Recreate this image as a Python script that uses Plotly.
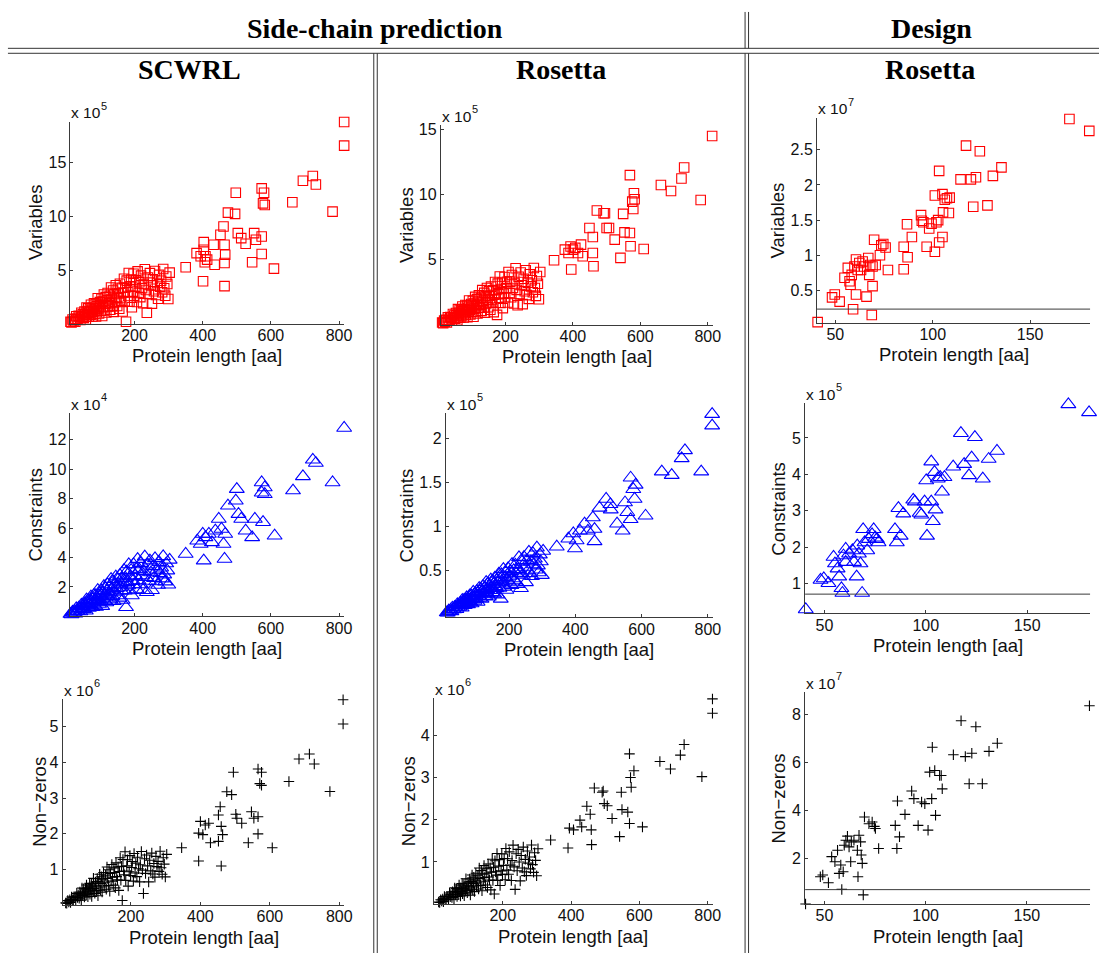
import plotly.graph_objects as go

W, H = 1107, 953

# ---------------- DATA ----------------
# Side-chain prediction: lengths of the densely packed small proteins (read as a cloud, 130 proteins)
dense_len = [12, 15, 18, 21, 24, 26, 29, 31, 34, 36, 39, 41, 44, 46, 48, 51, 53, 55, 57, 59,
             61, 62, 64, 66, 67, 69, 71, 72, 74, 76, 77, 79, 81, 82, 84, 86, 87, 89, 91, 92,
             94, 96, 98, 99, 101, 103, 105, 106, 108, 110, 112, 114, 115, 117, 119, 121, 123, 125, 127, 129,
             131, 133, 135, 137, 139, 141, 143, 145, 147, 149, 151, 153, 155, 157, 159, 161, 163, 165, 167, 169,
             171, 173, 175, 177, 179, 181, 183, 185, 188, 190, 192, 195, 197, 199, 202, 204, 207, 209, 212, 214,
             217, 219, 222, 225, 227, 230, 233, 236, 239, 242, 245, 248, 251, 254, 257, 260, 263, 266, 269, 272,
             275, 278, 281, 284, 287, 290, 293, 296, 299, 303]

# SCWRL variables (x 1e5)
scwrl_var_dense = [0.20, 0.15, 0.41, 0.28, 0.47, 0.21, 0.72, 0.48, 0.42, 0.75,
                   0.68, 0.38, 1.05, 0.66, 0.89, 0.57, 1.15, 0.91, 0.40, 1.53,
                   0.81, 1.15, 1.46, 0.67, 1.04, 1.43, 0.87, 1.79, 1.30, 0.70,
                   1.51, 1.14, 1.93, 0.92, 1.39, 1.87, 0.70, 1.66, 1.21, 2.39,
                   1.45, 0.98, 2.03, 1.74, 1.24, 2.35, 0.74, 2.08, 1.56, 2.74,
                   1.26, 1.88, 2.50, 1.07, 2.21, 2.89, 1.64, 1.93, 2.63, 1.32,
                   3.40, 2.33, 1.66, 3.12, 1.13, 2.77, 2.06, 3.61, 2.43, 1.68,
                   3.28, 2.85, 1.42, 3.74, 2.46, 2.15, 3.37, 1.16, 2.93, 4.21,
                   2.10, 3.40, 0.20, 4.04, 2.95, 2.61, 4.75, 2.08, 3.50, 4.13,
                   1.56, 3.01, 4.68, 2.63, 3.46, 4.08, 2.05, 4.90, 2.88, 3.89,
                   2.50, 4.50, 3.32, 1.94, 3.72, 5.10, 3.16, 1.05, 4.33, 2.80,
                   4.73, 3.59, 1.89, 4.17, 3.04, 4.93, 2.70, 3.82, 2.35, 4.57,
                   3.48, 4.03, 2.95, 5.12, 3.33, 2.63, 4.42, 3.72, 2.32, 4.78]
scwrl_var_sx = [350, 382, 394, 401, 403, 403, 408, 413, 406, 432, 435, 452, 461, 464, 466, 464, 464, 474, 497, 495,
                503, 513, 526, 545, 551, 556, 573, 573, 573, 580, 577, 582, 609, 663, 694, 723, 732, 781, 815, 815]
scwrl_var_sy = [5.28, 6.60, 6.30, 3.98, 7.62, 6.91, 6.30, 5.99, 5.74, 7.38, 5.52, 8.30, 9.07, 7.38, 6.45, 5.68, 3.52, 10.37, 12.22, 10.25,
                8.46, 7.99, 7.47, 5.74, 8.46, 7.84, 12.62, 8.15, 6.51, 12.22, 11.23, 11.08, 5.15, 11.33, 13.33, 13.77, 12.99, 10.46, 18.8, 16.6]

# Rosetta side-chain variables (x 1e5)
ros_var_dense = [0.16, 0.12, 0.32, 0.22, 0.37, 0.17, 0.56, 0.38, 0.33, 0.58,
                 0.54, 0.30, 0.82, 0.52, 0.70, 0.46, 0.90, 0.72, 0.33, 1.19,
                 0.65, 0.91, 1.14, 0.54, 0.82, 1.12, 0.70, 1.40, 1.02, 0.56,
                 1.19, 0.90, 1.51, 0.74, 1.09, 1.46, 0.57, 1.30, 0.96, 1.86,
                 1.15, 0.79, 1.59, 1.37, 0.99, 1.83, 0.61, 1.63, 1.23, 2.13,
                 1.01, 1.48, 1.96, 0.87, 1.74, 2.25, 1.30, 1.53, 2.06, 1.06,
                 2.65, 1.84, 1.32, 2.44, 0.92, 2.17, 1.63, 2.81, 1.91, 1.34,
                 2.57, 2.23, 1.15, 2.92, 1.94, 1.71, 2.64, 0.96, 2.30, 3.28,
                 1.68, 2.66, 0.75, 3.15, 2.33, 2.06, 3.70, 1.67, 2.74, 3.23,
                 1.27, 2.38, 3.66, 2.11, 2.79, 3.30, 1.70, 4.05, 2.42, 3.30,
                 2.11, 3.82, 2.81, 1.63, 3.16, 4.33, 2.67, 1.49, 3.68, 2.36,
                 4.01, 3.03, 1.58, 3.53, 2.57, 4.18, 2.27, 3.23, 1.98, 3.87,
                 2.94, 3.41, 2.49, 4.35, 2.82, 2.21, 3.74, 3.14, 1.95, 4.05]
ros_var_sx = [344, 395, 376, 387, 393, 400, 407, 415, 424, 429, 449, 459, 459, 461, 471, 491, 495, 500, 507, 524,
              541, 549, 553, 569, 569, 571, 576, 581, 579, 583, 610, 661, 691, 722, 730, 779, 813]
ros_var_sy = [4.95, 4.24, 5.76, 5.5, 6.0, 5.76, 5.9, 5.5, 6.15, 5.25, 7.42, 6.73, 5.5, 4.49, 8.77, 8.56, 8.56, 7.42, 7.42, 6.53,
              5.13, 8.51, 7.09, 11.49, 7.04, 6.02, 9.45, 10.09, 8.89, 9.63, 5.81, 10.73, 10.27, 11.23, 12.07, 9.58, 14.49]

# SCWRL constraints (x 1e4)
scwrl_con_dense = [0.16, 0.13, 0.31, 0.23, 0.36, 0.19, 0.54, 0.38, 0.35, 0.57,
                   0.53, 0.33, 0.79, 0.53, 0.69, 0.48, 0.87, 0.72, 0.38, 1.14,
                   0.66, 0.89, 1.10, 0.58, 0.82, 1.09, 0.72, 1.34, 1.01, 0.62,
                   1.16, 0.92, 1.45, 0.78, 1.09, 1.42, 0.64, 1.28, 0.99, 1.78,
                   1.16, 0.84, 1.55, 1.36, 1.03, 1.77, 0.70, 1.60, 1.25, 2.05,
                   1.06, 1.48, 1.90, 0.95, 1.71, 2.17, 1.34, 1.54, 2.01, 1.14,
                   2.53, 1.82, 1.38, 2.36, 1.03, 2.13, 1.66, 2.70, 1.91, 1.42,
                   2.49, 2.20, 1.26, 2.81, 1.96, 1.75, 2.58, 1.11, 2.29, 3.14,
                   1.74, 2.61, 0.62, 3.04, 2.33, 2.10, 3.53, 1.76, 2.71, 3.14,
                   1.42, 2.40, 3.53, 2.17, 2.77, 3.22, 1.82, 3.89, 2.44, 3.18,
                   2.17, 3.62, 2.77, 1.78, 3.06, 4.06, 2.66, 1.64, 3.51, 2.41,
                   3.79, 2.98, 1.78, 3.40, 2.60, 3.94, 2.37, 3.16, 2.13, 3.69,
                   2.93, 3.31, 2.57, 4.08, 2.84, 2.36, 3.59, 3.11, 2.15, 3.84]
scwrl_con_sx = [350, 384, 394, 403, 400, 408, 418, 427, 437, 447, 455, 461, 466, 464, 474, 497, 500, 505, 513, 526,
                545, 553, 573, 573, 577, 582, 582, 611, 665, 694, 723, 732, 781, 815]
scwrl_con_sy = [4.24, 5.14, 4.92, 3.79, 5.6, 5.37, 5.6, 5.03, 5.82, 6.62, 5.94, 4.92, 5.6, 3.9, 7.52, 7.86, 8.65, 6.95, 6.62, 5.82,
                5.37, 6.62, 9.1, 8.4, 6.4, 8.76, 8.3, 5.48, 8.55, 9.51, 10.64, 10.42, 9.10, 12.8]

# Rosetta side-chain constraints (x 1e5)
ros_con_dense = [0.025, 0.024, 0.046, 0.039, 0.056, 0.038, 0.079, 0.063, 0.061, 0.087,
                 0.085, 0.063, 0.117, 0.089, 0.108, 0.087, 0.133, 0.116, 0.079, 0.166,
                 0.113, 0.140, 0.165, 0.107, 0.135, 0.167, 0.126, 0.197, 0.161, 0.117,
                 0.180, 0.153, 0.215, 0.139, 0.176, 0.215, 0.127, 0.201, 0.169, 0.259,
                 0.190, 0.156, 0.237, 0.216, 0.180, 0.266, 0.145, 0.248, 0.210, 0.301,
                 0.190, 0.239, 0.288, 0.180, 0.269, 0.322, 0.229, 0.253, 0.307, 0.209,
                 0.369, 0.290, 0.240, 0.353, 0.203, 0.330, 0.277, 0.397, 0.309, 0.253,
                 0.378, 0.346, 0.239, 0.418, 0.321, 0.299, 0.394, 0.228, 0.364, 0.463,
                 0.304, 0.405, 0.18, 0.457, 0.376, 0.351, 0.516, 0.315, 0.425, 0.475,
                 0.280, 0.394, 0.524, 0.370, 0.440, 0.494, 0.335, 0.573, 0.411, 0.501,
                 0.386, 0.565, 0.466, 0.347, 0.513, 0.649, 0.471, 0.30, 0.598, 0.450,
                 0.652, 0.541, 0.366, 0.615, 0.499, 0.712, 0.468, 0.601, 0.436, 0.695,
                 0.569, 0.633, 0.510, 0.759, 0.556, 0.478, 0.680, 0.602, 0.448, 0.722]
ros_con_sx = [344, 379, 394, 399, 404, 414, 428, 438, 453, 458, 458, 473, 493, 506, 507, 526, 543, 550, 557, 567,
              567, 575, 579, 582, 612, 661, 691, 721, 731, 780, 813, 813]
ros_con_sy = [0.77, 0.86, 0.92, 0.75, 0.84, 0.95, 1.03, 0.95, 1.10, 0.97, 0.83, 1.21, 1.31, 1.25, 1.19, 1.03, 0.95, 1.27, 1.16, 1.55,
              1.08, 1.42, 1.31, 1.47, 1.12, 1.62, 1.58, 1.77, 1.86, 1.62, 2.27, 2.14]

# SCWRL non-zeros (x 1e6)
scwrl_nnz_dense = [0.064, 0.052, 0.130, 0.093, 0.151, 0.074, 0.228, 0.156, 0.139, 0.238,
                   0.221, 0.129, 0.332, 0.217, 0.287, 0.193, 0.367, 0.294, 0.143, 0.483,
                   0.269, 0.371, 0.463, 0.228, 0.337, 0.456, 0.290, 0.567, 0.419, 0.239,
                   0.485, 0.373, 0.612, 0.310, 0.449, 0.596, 0.246, 0.532, 0.401, 0.753,
                   0.473, 0.332, 0.648, 0.561, 0.413, 0.746, 0.264, 0.667, 0.510, 0.866,
                   0.423, 0.610, 0.796, 0.368, 0.712, 0.914, 0.542, 0.629, 0.839, 0.446,
                   1.072, 0.753, 0.552, 0.992, 0.393, 0.888, 0.675, 1.141, 0.786, 0.562,
                   1.046, 0.915, 0.487, 1.186, 0.801, 0.709, 1.077, 0.415, 0.946, 1.330,
                   0.699, 1.089, 0.13, 1.281, 0.958, 0.854, 1.498, 0.695, 1.102, 1.275,
                   0.536, 0.938, 1.391, 0.831, 1.058, 1.227, 0.676, 1.450, 0.904, 1.179,
                   0.802, 1.344, 1.024, 0.655, 1.136, 1.507, 0.984, 0.33, 1.302, 0.892,
                   1.407, 1.104, 0.653, 1.260, 0.963, 1.461, 0.873, 1.170, 0.786, 1.368,
                   1.083, 1.228, 0.948, 1.513, 1.049, 0.869, 1.331, 1.151, 0.793, 1.426]
scwrl_nnz_sx = [346, 395, 395, 400, 407, 414, 424, 429, 452, 452, 457, 460, 464, 460, 476, 490, 495, 502, 505, 519,
                538, 547, 554, 566, 566, 566, 571, 576, 576, 607, 655, 684, 714, 728, 773, 811, 811]
scwrl_nnz_sy = [1.61, 1.24, 2.02, 2.35, 1.98, 2.25, 2.30, 1.75, 1.79, 2.53, 2.76, 2.21, 1.98, 1.10, 3.18, 3.10, 3.73, 2.55, 2.44, 2.30,
                1.75, 2.62, 2.44, 2.00, 2.48, 3.82, 3.41, 3.73, 3.36, 1.61, 3.47, 4.10, 4.24, 3.96, 3.19, 5.76, 5.08]

# Rosetta side-chain non-zeros (x 1e6)
ros_nnz_dense = [0.052, 0.042, 0.104, 0.075, 0.121, 0.060, 0.183, 0.126, 0.112, 0.191,
                 0.177, 0.105, 0.266, 0.175, 0.230, 0.156, 0.294, 0.237, 0.117, 0.386,
                 0.217, 0.298, 0.371, 0.185, 0.271, 0.366, 0.234, 0.454, 0.337, 0.194,
                 0.389, 0.300, 0.490, 0.250, 0.361, 0.477, 0.200, 0.427, 0.323, 0.603,
                 0.381, 0.269, 0.519, 0.450, 0.333, 0.597, 0.215, 0.535, 0.410, 0.693,
                 0.342, 0.490, 0.638, 0.298, 0.571, 0.732, 0.437, 0.506, 0.673, 0.361,
                 0.858, 0.605, 0.446, 0.795, 0.320, 0.712, 0.543, 0.914, 0.632, 0.454,
                 0.838, 0.734, 0.395, 0.950, 0.644, 0.572, 0.864, 0.338, 0.760, 1.065,
                 0.564, 0.874, 0.24, 1.027, 0.770, 0.688, 1.199, 0.564, 0.902, 1.055,
                 0.442, 0.790, 1.192, 0.706, 0.919, 1.081, 0.580, 1.317, 0.806, 1.077,
                 0.709, 1.239, 0.925, 0.562, 1.034, 1.398, 0.883, 0.35, 1.195, 0.791,
                 1.299, 0.998, 0.552, 1.152, 0.858, 1.352, 0.766, 1.062, 0.677, 1.258,
                 0.973, 1.118, 0.836, 1.403, 0.937, 0.754, 1.219, 1.037, 0.675, 1.314]
ros_nnz_sx = [340, 391, 395, 407, 426, 431, 446, 456, 459, 460, 468, 491, 494, 497, 506, 520, 542, 547, 549, 566,
              571, 571, 574, 576, 584, 609, 660, 691, 720, 731, 783, 814, 814]
ros_nnz_sy = [1.52, 1.33, 1.80, 1.76, 1.99, 1.83, 2.32, 2.13, 1.76, 1.41, 2.75, 2.65, 2.68, 2.38, 2.33, 2.03, 1.60, 2.65, 2.24, 2.18,
              1.91, 3.56, 3.00, 2.77, 3.16, 1.83, 3.38, 3.20, 3.53, 3.78, 3.02, 4.86, 4.52]

# Design (Rosetta): variables (x 1e7)
des_var_x = [40.9, 48.3, 49.7, 52.2, 54.7, 56.4, 57.3, 57.8, 58.4, 59.1, 59.8, 60.6, 60.6, 61.5, 62.3, 63.2, 64.0, 64.8, 66.0, 66.9,
             67.4, 67.9, 68.7, 69.1, 69.1, 69.9, 70.7, 72.9, 73.6, 74.6, 75.8, 77.0, 85.1, 85.1, 86.8, 87.1, 89.3, 94.0, 94.4, 95.2,
             96.9, 98.2, 99.4, 101.1, 101.9, 102.8, 103.3, 103.3, 105.0, 105.3, 101.1, 105.0, 106.2, 107.3, 108.7, 108.3, 114.3, 117.1, 119.6, 122.2,
             120.8, 124.2, 128.1, 130.9, 135.3, 170.2, 180.4]
des_var_y = [0.047, 0.40, 0.44, 0.34, 0.68, 0.82, 0.63, 0.58, 0.72, 0.23, 0.84, 0.94, 0.44, 0.79, 0.89, 0.79, 0.91, 0.84, 0.41, 0.96,
             0.72, 0.86, 0.15, 0.56, 0.84, 1.22, 0.86, 1.00, 1.14, 1.16, 1.11, 0.79, 0.80, 1.12, 1.44, 0.97, 1.26, 1.57, 1.49, 1.47,
             1.12, 1.38, 1.45, 1.05, 1.47, 1.50, 2.20, 1.18, 1.26, 1.61, 1.85, 1.87, 1.79, 1.81, 1.82, 1.60, 2.08, 2.56, 2.08, 2.11,
             1.69, 2.48, 1.71, 2.13, 2.25, 2.94, 2.77]

# Design: constraints (x 1e5)
des_con_x = [40.8, 48.1, 49.7, 52.0, 54.5, 55.2, 56.5, 57.3, 58.4, 58.9, 59.4, 60.5, 60.5, 62.2, 63.8, 64.6, 65.9, 66.2, 67.0, 67.8,
             68.6, 69.1, 69.8, 71.1, 71.9, 73.5, 74.3, 75.1, 75.9, 76.7, 84.8, 85.7, 86.5, 87.6, 88.9, 93.8, 94.6, 97.0, 97.8, 99.4,
             100.6, 100.2, 102.7, 102.7, 103.5, 104.3, 104.8, 105.9, 107.1, 108.0, 109.2, 113.5, 117.3, 118.9, 121.3, 122.6, 124.2, 128.1, 131.0, 135.1,
             170.3, 180.5]
des_con_y = [0.29, 1.10, 1.14, 1.01, 1.73, 1.55, 1.41, 1.19, 0.87, 0.74, 1.77, 1.95, 1.59, 1.82, 1.91, 1.59, 1.19, 2.04, 1.82, 1.55,
             0.74, 2.49, 2.13, 1.91, 2.22, 2.35, 2.49, 2.26, 2.22, 2.13, 2.49, 2.13, 3.07, 2.31, 2.92, 3.30, 3.25, 2.94, 2.89, 3.25,
             2.31, 3.83, 4.35, 3.25, 2.71, 4.06, 3.03, 3.88, 3.92, 3.52, 3.92, 4.21, 5.13, 4.28, 3.97, 4.46, 5.02, 3.88, 4.42, 4.64,
             5.92, 5.70]

# Design: non-zeros (x 1e7)
des_nnz_x = [40.7, 48.0, 49.2, 52.0, 53.6, 55.2, 56.5, 57.3, 58.1, 58.6, 59.3, 59.8, 60.6, 61.4, 62.2, 63.0, 63.3, 64.6, 66.3, 66.6,
             67.1, 67.9, 68.2, 68.7, 69.2, 69.8, 72.0, 73.6, 74.7, 75.2, 76.8, 85.0, 85.8, 86.1, 87.1, 89.8, 93.1, 94.2, 96.3, 98.0,
             99.6, 101.2, 102.0, 103.0, 103.3, 104.5, 104.9, 106.9, 107.7, 108.2, 113.7, 117.5, 119.6, 121.5, 122.8, 124.8, 128.0, 131.3, 135.4, 180.9]
des_nnz_y = [0.08, 1.22, 1.29, 0.97, 2.06, 1.85, 2.33, 1.36, 1.71, 0.69, 1.43, 2.54, 2.75, 2.92, 2.47, 1.85, 2.68, 2.75, 2.33, 1.22,
             2.96, 2.68, 2.13, 1.78, 0.46, 3.72, 3.44, 3.51, 3.33, 3.24, 2.40, 3.37, 2.40, 4.39, 2.89, 3.83, 4.81, 4.49, 3.37, 4.35,
             4.28, 3.17, 5.60, 4.49, 6.64, 5.67, 3.79, 5.46, 5.46, 4.90, 6.33, 7.75, 6.25, 5.11, 6.39, 7.50, 5.11, 6.47, 6.81, 8.38]

# Horizontal reference levels in the design panels (variables x1e7, constraints x1e5, non-zeros x1e7)
design_levels = [0.233, 0.71, 0.68]

side_xticks = [200, 400, 600, 800]
design_xticks = [50, 100, 150]

headers_top = ["Side-chain prediction", "Design"]
headers_sub = ["SCWRL", "Rosetta", "Rosetta"]
row_titles = ["Variables", "Constraints", "Non\u2212zeros"]
x_title = "Protein length [aa]"

for arr in (scwrl_var_dense, ros_var_dense, scwrl_con_dense, ros_con_dense, scwrl_nnz_dense, ros_nnz_dense):
    assert len(arr) == len(dense_len)

# ---------------- LAYOUT SPEC ----------------
RED, BLUE, BLACK = "#ff0000", "#0000ff", "#000000"
MK = {
    "var": dict(symbol="square-open", size=9.5, color=RED),
    "con": dict(symbol="triangle-up-open", size=13, color=BLUE),
    "nnz": dict(symbol="cross-thin-open", size=7.5, color=BLACK),
}

panels = [
    # row 1
    dict(x=dense_len + scwrl_var_sx, y=scwrl_var_dense + scwrl_var_sy, kind="var", box=(71, 347, 118, 321),
         xr=[12, 816], yr=[0.03, 18.85], xt=side_xticks, yt=[5, 10, 15], exp="5", row=0, ytx=36),
    dict(x=dense_len + ros_var_sx, y=ros_var_dense + ros_var_sy, kind="var", box=(444, 718, 122, 322),
         xr=[8, 815], yr=[0.0, 15.3], xt=side_xticks, yt=[5, 10, 15], exp="5", row=0, ytx=409),
    dict(x=des_var_x, y=des_var_y, kind="var", box=(823, 1098, 114, 320),
         xr=[40.6, 180.8], yr=[0.04, 2.96], xt=design_xticks, yt=[0.5, 1, 1.5, 2, 2.5], exp="7", row=0, ytx=783,
         level=design_levels[0]),
    # row 2
    dict(x=dense_len + scwrl_con_sx, y=scwrl_con_dense + scwrl_con_sy, kind="con", box=(71, 347, 411, 615),
         xr=[12, 816], yr=[0.0, 13.8], xt=side_xticks, yt=[2, 4, 6, 8, 10, 12], exp="4", row=1, ytx=36),
    dict(x=dense_len + ros_con_sx, y=ros_con_dense + ros_con_sy, kind="con", box=(449, 718, 411, 616),
         xr=[9, 815], yr=[-0.03, 2.28], xt=side_xticks, yt=[0.5, 1, 1.5, 2], exp="5", row=1, ytx=409),
    dict(x=des_con_x, y=des_con_y, kind="con", box=(811, 1098, 401, 612),
         xr=[40.5, 181], yr=[0.18, 5.95], xt=design_xticks, yt=[1, 2, 3, 4, 5], exp="5", row=1, ytx=784,
         level=design_levels[1]),
    # row 3
    dict(x=dense_len + scwrl_nnz_sx, y=scwrl_nnz_dense + scwrl_nnz_sy, kind="nnz", box=(63, 347, 698, 905),
         xr=[3, 815], yr=[0.0, 5.78], xt=side_xticks, yt=[1, 2, 3, 4, 5], exp="6", row=2, ytx=39),
    dict(x=dense_len + ros_nnz_sx, y=ros_nnz_dense + ros_nnz_sy, kind="nnz", box=(437, 718, 697, 904),
         xr=[-2, 815], yr=[0.0, 4.88], xt=side_xticks, yt=[1, 2, 3, 4], exp="6", row=2, ytx=411),
    dict(x=des_nnz_x, y=des_nnz_y, kind="nnz", box=(811, 1098, 691, 904),
         xr=[40.5, 181.2], yr=[0.07, 8.95], xt=design_xticks, yt=[2, 4, 6, 8], exp="7", row=2, ytx=784,
         level=design_levels[2]),
]

AXIS_COLOR = "#3a3a3a"
FAM = "Liberation Sans, Arial, sans-serif"
TICK_FONT = dict(family=FAM, size=16, color="#111")
LABEL_FONT = dict(family=FAM, size=18.5, color="#111")
HEAD_FONT = dict(family="Liberation Serif, Times New Roman, serif", size=28, color="#000")

fig = go.Figure()
layout = {}
annotations = []
shapes = []


def px_x(px):
    return px / W


def px_y(py):
    return 1 - py / H


for i, p in enumerate(panels, start=1):
    sfx = "" if i == 1 else str(i)
    mk = MK[p["kind"]]
    fig.add_trace(go.Scatter(
        x=p["x"], y=p["y"], mode="markers", xaxis="x" + sfx, yaxis="y" + sfx,
        showlegend=False, cliponaxis=False, hoverinfo="x+y",
        marker=dict(symbol=mk["symbol"], size=mk["size"], color=mk["color"],
                    line=dict(color=mk["color"], width=1.1)),
    ))
    x0, x1, y0, y1 = p["box"]
    common = dict(ticks="inside", ticklen=3, tickcolor=AXIS_COLOR, showline=True, linecolor=AXIS_COLOR,
                  linewidth=1, mirror=False, showgrid=False, zeroline=False, tickfont=TICK_FONT,
                  fixedrange=True)
    layout["xaxis" + sfx] = dict(domain=[px_x(x0), px_x(x1)], range=p["xr"], anchor="y" + sfx,
                                 tickvals=p["xt"], ticklabelstandoff=-3, **common)
    layout["yaxis" + sfx] = dict(domain=[px_y(y1), px_y(y0)], range=p["yr"], anchor="x" + sfx,
                                 tickvals=p["yt"], **common)
    # exponent label "x 10^k" (base and superscript as separate texts)
    annotations.append(dict(
        text="x 10", xref="x%s domain" % sfx, yref="y%s domain" % sfx,
        x=0, y=1, xanchor="left", yanchor="middle", showarrow=False, xshift=-1, yshift=9,
        font=dict(family=FAM, size=15.5, color="#111"),
    ))
    annotations.append(dict(
        text=p["exp"], xref="x%s domain" % sfx, yref="y%s domain" % sfx,
        x=0, y=1, xanchor="left", yanchor="middle", showarrow=False, xshift=29, yshift=16,
        font=dict(family=FAM, size=11, color="#111"),
    ))
    # y title
    annotations.append(dict(
        text=row_titles[p["row"]], xref="paper", yref="y%s domain" % sfx,
        x=px_x(p["ytx"]), y=0.5, xanchor="center", yanchor="middle", textangle=-90,
        showarrow=False, font=LABEL_FONT,
    ))
    # x title
    annotations.append(dict(
        text=x_title, xref="x%s domain" % sfx, yref="y%s domain" % sfx,
        x=0.5, y=0, xanchor="center", yanchor="middle", yshift=-32,
        showarrow=False, font=LABEL_FONT,
    ))
    if "level" in p:
        shapes.append(dict(type="line", xref="x%s domain" % sfx, yref="y" + sfx,
                           x0=0, x1=1, y0=p["level"], y1=p["level"],
                           line=dict(color=AXIS_COLOR, width=1)))

# headers
for text, cx, cy in [(headers_top[0], 378, 25), (headers_top[1], 938, 25),
                     (headers_sub[0], 191, 66), (headers_sub[1], 565, 66), (headers_sub[2], 937, 66)]:
    annotations.append(dict(text="<b>%s</b>" % text, xref="paper", yref="paper",
                            x=px_x(cx), y=px_y(cy), xanchor="center", yanchor="middle",
                            showarrow=False, font=HEAD_FONT))

# separator double lines
SEP = dict(color="#333333", width=1)
for yy in (44.5, 49.5):
    shapes.append(dict(type="line", xref="paper", yref="paper", x0=px_x(8), x1=1,
                       y0=px_y(yy), y1=px_y(yy), line=SEP))
for xx in (376.5, 380):
    shapes.append(dict(type="line", xref="paper", yref="paper", x0=px_x(xx), x1=px_x(xx),
                       y0=px_y(49.5), y1=0, line=SEP))
for xx in (750.5, 754):
    shapes.append(dict(type="line", xref="paper", yref="paper", x0=px_x(xx), x1=px_x(xx),
                       y0=px_y(8), y1=px_y(44.5), line=SEP))
    shapes.append(dict(type="line", xref="paper", yref="paper", x0=px_x(xx), x1=px_x(xx),
                       y0=px_y(49.5), y1=0, line=SEP))

fig.update_layout(
    width=W, height=H, margin=dict(l=0, r=0, t=0, b=0),
    paper_bgcolor="white", plot_bgcolor="white",
    annotations=annotations, shapes=shapes, showlegend=False,
    **layout,
)

fig.write_html("out.html", config={"displayModeBar": False})
